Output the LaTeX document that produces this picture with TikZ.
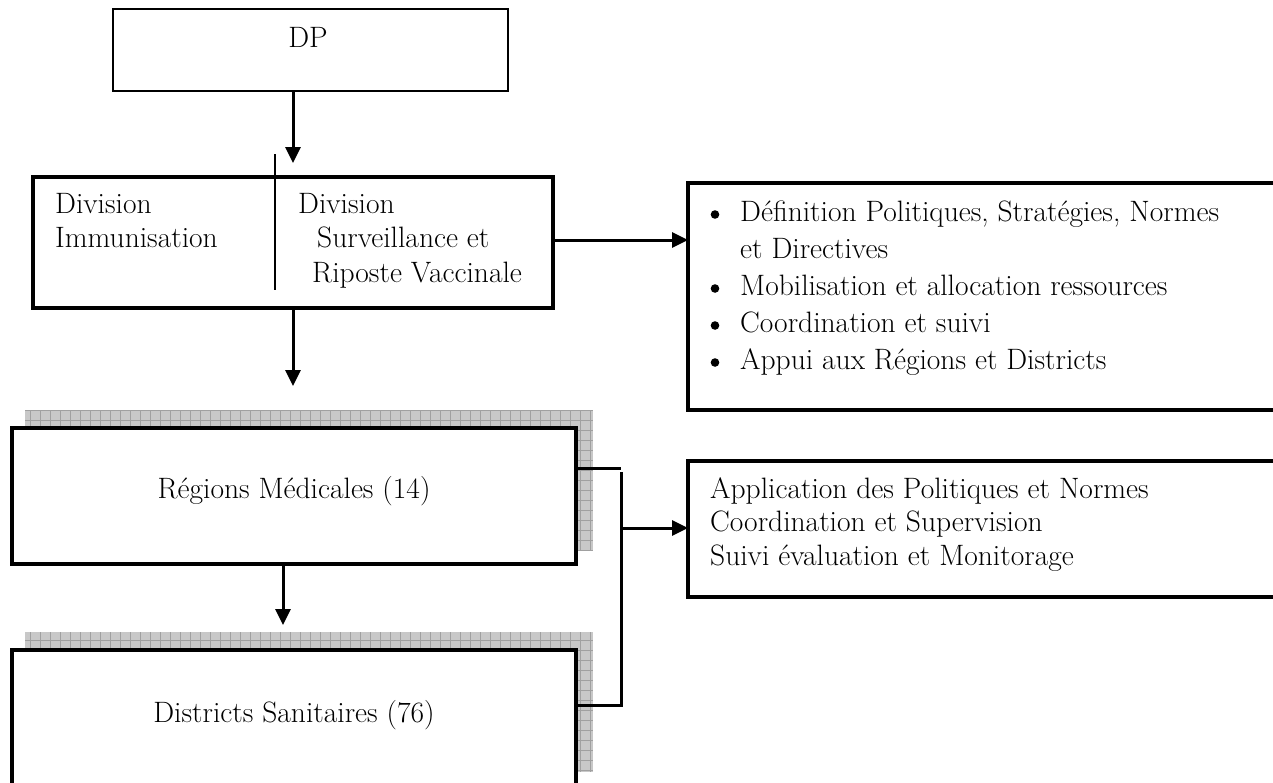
\documentclass[tikz,border=0pt]{standalone}
\usepackage{tikz}
\usetikzlibrary{arrows.meta,positioning,calc,backgrounds}
\definecolor{shadowgray}{RGB}{200,200,200}
\definecolor{gridgray}{RGB}{160,160,160}
\tikzset{
  thinbox/.style={draw=black,line width=1.6pt,fill=white,inner sep=0pt},
  thickbox/.style={draw=black,line width=4pt,fill=white,inner sep=0pt},
  arr/.style={-{Triangle[length=16pt,width=15pt]},line width=3pt},
  conn/.style={line width=3pt},
  txt/.style={inner sep=0pt,font=\fontsize{29.5}{34.5}\selectfont}
}

\begin{document}
\begin{tikzpicture}[
  x=1pt,y=-1pt,
  shade/.style={fill=shadowgray},
  shadegrid/.style={draw=gridgray,line width=0.6pt,step=10pt},
  divider/.style={line width=1.6pt},
  listfont/.style={font=\fontsize{29.5}{37}\selectfont},
  rolefont/.style={font=\fontsize{29.5}{33.5}\selectfont}
]
\useasboundingbox (0,0) rectangle (1273,782);
\clip (0,0) rectangle (1273,782);

\node[thinbox,minimum width=395,minimum height=82] (dp) at (310.5,50) {};
\node[thickbox,minimum width=520,minimum height=131] (div) at (293,242.5) {};
\node[thickbox,minimum width=602,minimum height=227] (tasks) at (989,296.5) {};
\node[thickbox,minimum width=564,minimum height=136] (reg) at (294,496) {};
\node[thickbox,minimum width=602,minimum height=136] (roles) at (989,529) {};
\node[thickbox,minimum width=564,minimum height=136] (dist) at (294,718) {};

\begin{scope}[on background layer]
  \foreach \b in {reg,dist}{
    \fill[shade] ([shift={(15,-16)}]\b.south west) rectangle ([shift={(15,-16)}]\b.north east);
    \begin{scope}
      \clip ([shift={(15,-16)}]\b.south west) rectangle ([shift={(15,-16)}]\b.north east);
      \draw[shadegrid] ([shift={(15,-16)}]\b.south west) grid ([shift={(15,-16)}]\b.north east);
    \end{scope}
  }
\end{scope}

\coordinate (splitTop) at (275,154);
\coordinate (splitBot) at (275,290);
\draw[divider] (splitTop) -- (splitBot);

\node[txt,anchor=base] (dplabel) at (308,47) {DP};
\node[txt,anchor=base west] (immu) at (55,213)
  {\begin{tabular}[t]{@{}l@{}}Division\\Immunisation\end{tabular}};
\node[txt,anchor=base west] (surv) at (298,213)
  {\begin{tabular}[t]{@{}l@{}}Division\\\hspace{19pt}Surveillance et\\\hspace{14pt}Riposte Vaccinale\end{tabular}};
\node[txt,listfont,anchor=base west] (tasklist) at (740,221)
  {\begin{tabular}[t]{@{}l@{}}
    Définition Politiques, Stratégies, Normes\\
    et Directives\\
    Mobilisation et allocation ressources\\
    Coordination et suivi\\
    Appui aux Régions et Districts
  \end{tabular}};
\foreach \y in {214.5,288.5,325.5,362.5}{
  \fill (715,\y) circle (4.3);
}
\node[txt,anchor=base] (reglabel) at (294,498) {Régions Médicales (14)};
\node[txt,rolefont,anchor=base west] (rolelist) at (710,498)
  {\begin{tabular}[t]{@{}l@{}}Application des Politiques et Normes\\Coordination et Supervision\\Suivi évaluation et Monitorage\end{tabular}};
\node[txt,anchor=base] (distlabel) at (294,722) {Districts Sanitaires (76)};

\coordinate (divIn) at (293,163);
\coordinate (regIn) at (293,386);
\coordinate (tasksIn) at (688,240);
\coordinate (distIn) at (283,625);
\coordinate (brTop) at (621,468);
\coordinate (brStart) at (621,472);
\coordinate (brBot) at (621,705);
\coordinate (rolesIn) at (688,528);

\draw[arr] (dp.south -| divIn) -- (divIn);
\draw[arr] (div.south -| regIn) -- (regIn);
\draw[arr] (div.east |- tasksIn) -- (tasksIn);
\draw[arr] (reg.south -| distIn) -- (distIn);
\draw[conn] (reg.east |- brTop) -- (brTop);
\draw[conn] (brStart) -- (brBot) -- (brBot -| dist.east);
\draw[arr] (brBot |- rolesIn) -- (rolesIn);

\end{tikzpicture}
\end{document}
